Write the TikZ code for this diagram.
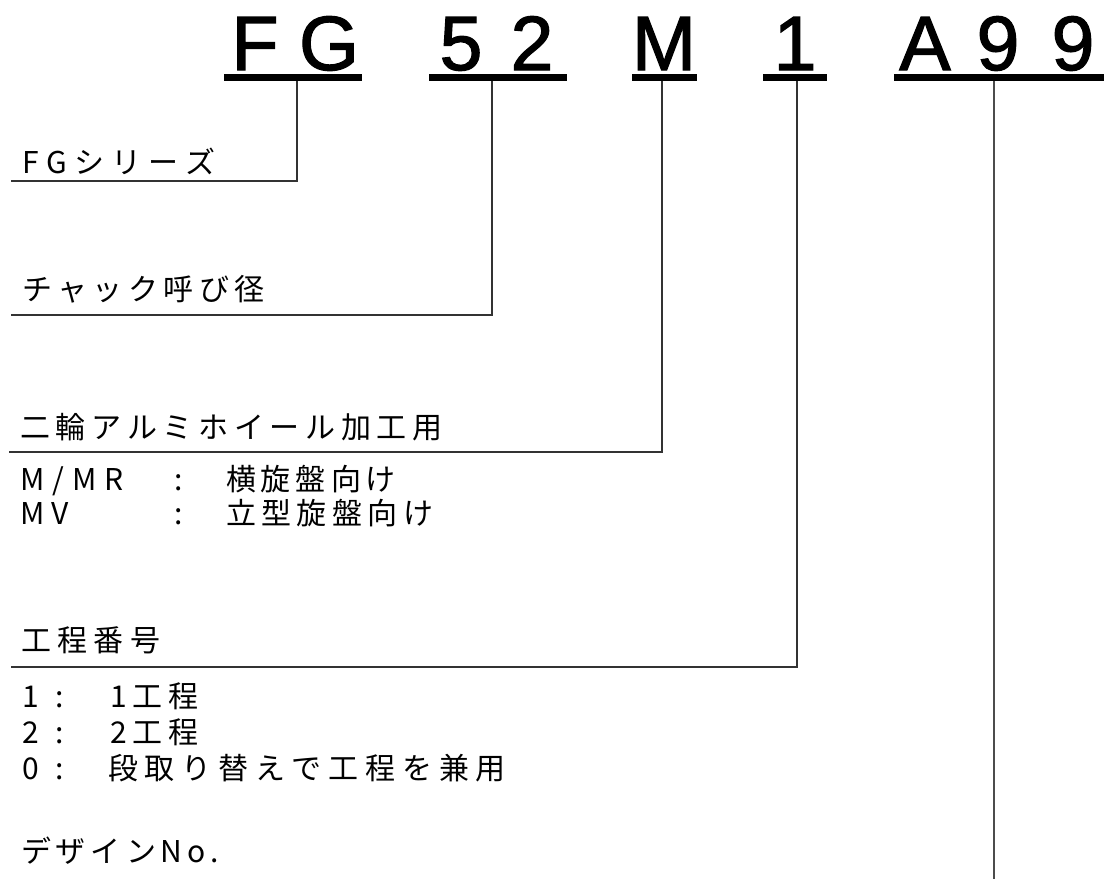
\documentclass[tikz,border=0pt]{standalone}
\usepackage{fontspec}
\setmainfont{Liberation Sans}
\newfontfamily\titlefont[FakeBold=1.6]{Liberation Sans}
\newfontfamily\jp{Noto Sans CJK JP}
\ExplSyntaxOn
\NewDocumentCommand\sptext{O{6pt}m}{\tl_map_inline:nn {#2}{##1\kern #1}}
\ExplSyntaxOff
\begin{document}
\begin{tikzpicture}[x=1pt,y=-1pt,
  code/.style={anchor=base,inner sep=0pt,outer sep=0pt,font=\titlefont\fontsize{77}{80}\selectfont},
  lbl/.style={anchor=base west,inner sep=0pt,outer sep=0pt,font=\jp\fontsize{30}{32}\selectfont},
  colon/.style={anchor=base,inner sep=0pt,outer sep=0pt,font=\jp\fontsize{30}{32}\selectfont},
  uline/.style={line width=7pt,black},
  lead/.style={line width=1.6pt,draw=black!80},
  vlead/.style={line width=2.2pt,draw=black!70}]
\useasboundingbox (0,0) rectangle (1106,879);
\fill[white] (0,0) rectangle (1106,879);
% title characters
\node[code] (cF) at (255,70) {F};
\node[code] (cG) at (329,70) {G};
\node[code] (c5) at (461,70) {5};
\node[code] (c2) at (532,70) {2};
\node[code] (cM) at (664,70) {M};
\node[code] (c1) at (795,70) {1};
\node[code] (cA) at (925,70) {A};
\node[code] (c9a) at (998,70) {9};
\node[code] (c9b) at (1073,70) {9};
% underlines
\coordinate (u1a) at (224,77.5); \coordinate (u1b) at (362,77.5);
\coordinate (u2a) at (429,77.5); \coordinate (u2b) at (567,77.5);
\coordinate (u3a) at (632,77.5); \coordinate (u3b) at (697,77.5);
\coordinate (u4a) at (763,77.5); \coordinate (u4b) at (827,77.5);
\coordinate (u5a) at (894,77.5); \coordinate (u5b) at (1104,77.5);
\draw[uline] (u1a) -- (u1b);
\draw[uline] (u2a) -- (u2b);
\draw[uline] (u3a) -- (u3b);
\draw[uline] (u4a) -- (u4b);
\draw[uline] (u5a) -- (u5b);
% leader tops and ends
\coordinate (t1) at (297,81); \coordinate (e1) at (11,181);
\coordinate (t2) at (492,81); \coordinate (e2) at (11,315);
\coordinate (t3) at (662,81); \coordinate (e3) at (9,452);
\coordinate (t4) at (797,81); \coordinate (e4) at (11,667);
\coordinate (t5) at (994,81); \coordinate (e5) at (994,879);
\draw[lead] (t1) |- (e1);
\draw[lead] (t2) |- (e2);
\draw[lead] (t3) |- (e3);
\draw[lead] (t4) |- (e4);
\draw[vlead] (t5) -- (e5);
% labels
\node[lbl] (l1) at (23,173) {\sptext[7pt]{FGシリーズ}};
\node[lbl] (l2) at (22,300) {\sptext[5.5pt]{チャック呼び径}};
\node[lbl] (l3) at (20,438) {\sptext[5.7pt]{二輪アルミホイール加工用}};
\node[lbl] (m1) at (20,490) {\sptext[8pt]{M/MR}};
\node[colon] (m1c) at (179,490) {:};
\node[lbl] (m1t) at (226,490) {\sptext[5pt]{横旋盤向け}};
\node[lbl] (m2) at (20,524) {\sptext[7pt]{MV}};
\node[colon] (m2c) at (179,524) {:};
\node[lbl] (m2t) at (226,524) {\sptext[5.5pt]{立型旋盤向け}};
\node[lbl] (l4) at (21,651) {\sptext[6.5pt]{工程番号}};
\node[lbl] (p1) at (23,707) {1};
\node[colon] (p1c) at (60,707) {:};
\node[lbl] (p1t) at (110,707) {\sptext[6pt]{1工程}};
\node[lbl] (p2) at (23,743) {2};
\node[colon] (p2c) at (60,743) {:};
\node[lbl] (p2t) at (110,743) {\sptext[6pt]{2工程}};
\node[lbl] (p0) at (23,779) {0};
\node[colon] (p0c) at (60,779) {:};
\node[lbl] (p0t) at (108,779) {\sptext[6.8pt]{段取り替えで工程を兼用}};
\node[lbl] (l5) at (21,862) {\sptext[5pt]{デザインNo.}};
\end{tikzpicture}
\end{document}
